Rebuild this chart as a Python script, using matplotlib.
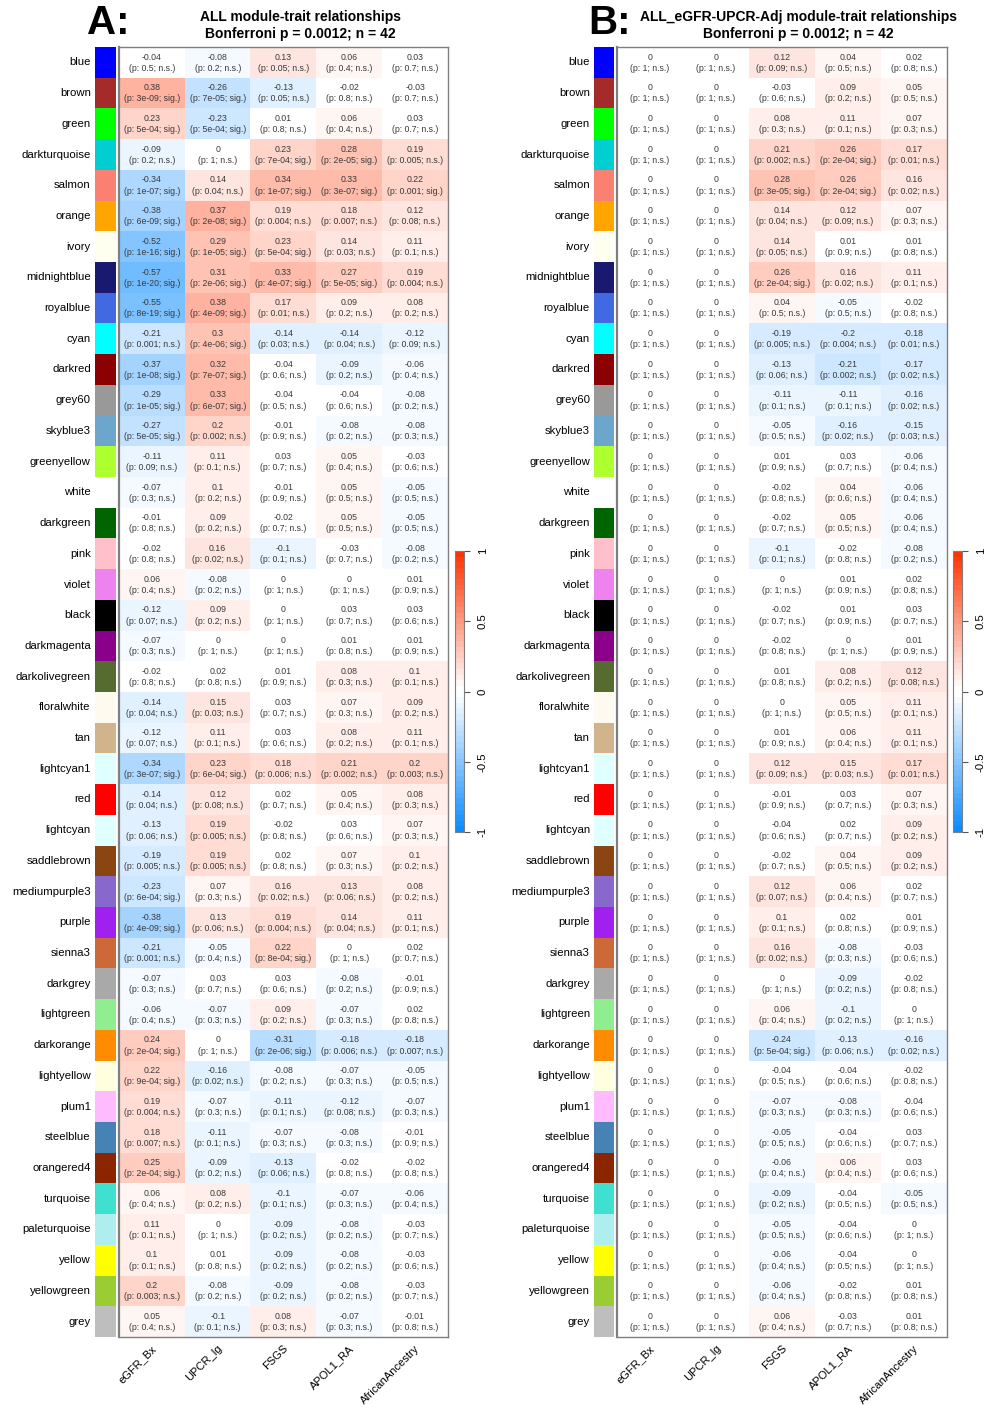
import numpy as np
import matplotlib as mpl
import matplotlib.pyplot as plt
from matplotlib.colors import ListedColormap, Normalize

plt.rcParams['font.family'] = ['Liberation Sans', 'DejaVu Sans']

modules = ['blue', 'brown', 'green', 'darkturquoise', 'salmon', 'orange', 'ivory',
           'midnightblue', 'royalblue', 'cyan', 'darkred', 'grey60', 'skyblue3',
           'greenyellow', 'white', 'darkgreen', 'pink', 'violet', 'black',
           'darkmagenta', 'darkolivegreen', 'floralwhite', 'tan', 'lightcyan1',
           'red', 'lightcyan', 'saddlebrown', 'mediumpurple3', 'purple', 'sienna3',
           'darkgrey', 'lightgreen', 'darkorange', 'lightyellow', 'plum1',
           'steelblue', 'orangered4', 'turquoise', 'paleturquoise', 'yellow',
           'yellowgreen', 'grey']
# R colour values for the module names
module_hex = ['#0000FF', '#A52A2A', '#00FF00', '#00CED1', '#FA8072', '#FFA500', '#FFFFF0',
              '#191970', '#4169E1', '#00FFFF', '#8B0000', '#999999', '#6CA6CD',
              '#ADFF2F', '#FFFFFF', '#006400', '#FFC0CB', '#EE82EE', '#000000',
              '#8B008B', '#556B2F', '#FFFAF0', '#D2B48C', '#E0FFFF',
              '#FF0000', '#E0FFFF', '#8B4513', '#8968CD', '#A020F0', '#CD6839',
              '#A9A9A9', '#90EE90', '#FF8C00', '#FFFFE0', '#FFBBFF',
              '#4682B4', '#8B2500', '#40E0D0', '#AFEEEE', '#FFFF00',
              '#9ACD32', '#BEBEBE']
traits = ['eGFR_Bx', 'UPCR_lg', 'FSGS', 'APOL1_RA', 'AfricanAncestry']

corr_a = [
    [-0.04, -0.08, 0.13, 0.06, 0.03],
    [0.38, -0.26, -0.13, -0.02, -0.03],
    [0.23, -0.23, 0.01, 0.06, 0.03],
    [-0.09, 0, 0.23, 0.28, 0.19],
    [-0.34, 0.14, 0.34, 0.33, 0.22],
    [-0.38, 0.37, 0.19, 0.18, 0.12],
    [-0.52, 0.29, 0.23, 0.14, 0.11],
    [-0.57, 0.31, 0.33, 0.27, 0.19],
    [-0.55, 0.38, 0.17, 0.09, 0.08],
    [-0.21, 0.3, -0.14, -0.14, -0.12],
    [-0.37, 0.32, -0.04, -0.09, -0.06],
    [-0.29, 0.33, -0.04, -0.04, -0.08],
    [-0.27, 0.2, -0.01, -0.08, -0.08],
    [-0.11, 0.11, 0.03, 0.05, -0.03],
    [-0.07, 0.1, -0.01, 0.05, -0.05],
    [-0.01, 0.09, -0.02, 0.05, -0.05],
    [-0.02, 0.16, -0.1, -0.03, -0.08],
    [0.06, -0.08, 0, 0, 0.01],
    [-0.12, 0.09, 0, 0.03, 0.03],
    [-0.07, 0, 0, 0.01, 0.01],
    [-0.02, 0.02, 0.01, 0.08, 0.1],
    [-0.14, 0.15, 0.03, 0.07, 0.09],
    [-0.12, 0.11, 0.03, 0.08, 0.11],
    [-0.34, 0.23, 0.18, 0.21, 0.2],
    [-0.14, 0.12, 0.02, 0.05, 0.08],
    [-0.13, 0.19, -0.02, 0.03, 0.07],
    [-0.19, 0.19, 0.02, 0.07, 0.1],
    [-0.23, 0.07, 0.16, 0.13, 0.08],
    [-0.38, 0.13, 0.19, 0.14, 0.11],
    [-0.21, -0.05, 0.22, 0, 0.02],
    [-0.07, 0.03, 0.03, -0.08, -0.01],
    [-0.06, -0.07, 0.09, -0.07, 0.02],
    [0.24, 0, -0.31, -0.18, -0.18],
    [0.22, -0.16, -0.08, -0.07, -0.05],
    [0.19, -0.07, -0.11, -0.12, -0.07],
    [0.18, -0.11, -0.07, -0.08, -0.01],
    [0.25, -0.09, -0.13, -0.02, -0.02],
    [0.06, 0.08, -0.1, -0.07, -0.06],
    [0.11, 0, -0.09, -0.08, -0.03],
    [0.1, 0.01, -0.09, -0.08, -0.03],
    [0.2, -0.08, -0.09, -0.08, -0.03],
    [0.05, -0.1, 0.08, -0.07, -0.01],
]
pval_a = [
    ['0.5', '0.2', '0.05', '0.4', '0.7'],
    ['3e-09', '7e-05', '0.05', '0.8', '0.7'],
    ['5e-04', '5e-04', '0.8', '0.4', '0.7'],
    ['0.2', '1', '7e-04', '2e-05', '0.005'],
    ['1e-07', '0.04', '1e-07', '3e-07', '0.001'],
    ['6e-09', '2e-08', '0.004', '0.007', '0.08'],
    ['1e-16', '1e-05', '5e-04', '0.03', '0.1'],
    ['1e-20', '2e-06', '4e-07', '5e-05', '0.004'],
    ['8e-19', '4e-09', '0.01', '0.2', '0.2'],
    ['0.001', '4e-06', '0.03', '0.04', '0.09'],
    ['1e-08', '7e-07', '0.6', '0.2', '0.4'],
    ['1e-05', '6e-07', '0.5', '0.6', '0.2'],
    ['5e-05', '0.002', '0.9', '0.2', '0.3'],
    ['0.09', '0.1', '0.7', '0.4', '0.6'],
    ['0.3', '0.2', '0.9', '0.5', '0.5'],
    ['0.8', '0.2', '0.7', '0.5', '0.5'],
    ['0.8', '0.02', '0.1', '0.7', '0.2'],
    ['0.4', '0.2', '1', '1', '0.9'],
    ['0.07', '0.2', '1', '0.7', '0.6'],
    ['0.3', '1', '1', '0.8', '0.9'],
    ['0.8', '0.8', '0.9', '0.3', '0.1'],
    ['0.04', '0.03', '0.7', '0.3', '0.2'],
    ['0.07', '0.1', '0.6', '0.2', '0.1'],
    ['3e-07', '6e-04', '0.006', '0.002', '0.003'],
    ['0.04', '0.08', '0.7', '0.4', '0.3'],
    ['0.06', '0.005', '0.8', '0.6', '0.3'],
    ['0.005', '0.005', '0.8', '0.3', '0.2'],
    ['6e-04', '0.3', '0.02', '0.06', '0.2'],
    ['4e-09', '0.06', '0.004', '0.04', '0.1'],
    ['0.001', '0.4', '8e-04', '1', '0.7'],
    ['0.3', '0.7', '0.6', '0.2', '0.9'],
    ['0.4', '0.3', '0.2', '0.3', '0.8'],
    ['2e-04', '1', '2e-06', '0.006', '0.007'],
    ['9e-04', '0.02', '0.2', '0.3', '0.5'],
    ['0.004', '0.3', '0.1', '0.08', '0.3'],
    ['0.007', '0.1', '0.3', '0.3', '0.9'],
    ['2e-04', '0.2', '0.06', '0.8', '0.8'],
    ['0.4', '0.2', '0.1', '0.3', '0.4'],
    ['0.1', '1', '0.2', '0.2', '0.7'],
    ['0.1', '0.8', '0.2', '0.2', '0.6'],
    ['0.003', '0.2', '0.2', '0.2', '0.7'],
    ['0.4', '0.1', '0.3', '0.3', '0.8'],
]
# cells flagged "sig." although the rounded p reads 0.001
extra_sig_a = [(4, 4)]

corr_b = [
    [0, 0, 0.12, 0.04, 0.02],
    [0, 0, -0.03, 0.09, 0.05],
    [0, 0, 0.08, 0.11, 0.07],
    [0, 0, 0.21, 0.26, 0.17],
    [0, 0, 0.28, 0.26, 0.16],
    [0, 0, 0.14, 0.12, 0.07],
    [0, 0, 0.14, 0.01, 0.01],
    [0, 0, 0.26, 0.16, 0.11],
    [0, 0, 0.04, -0.05, -0.02],
    [0, 0, -0.19, -0.2, -0.18],
    [0, 0, -0.13, -0.21, -0.17],
    [0, 0, -0.11, -0.11, -0.16],
    [0, 0, -0.05, -0.16, -0.15],
    [0, 0, 0.01, 0.03, -0.06],
    [0, 0, -0.02, 0.04, -0.06],
    [0, 0, -0.02, 0.05, -0.06],
    [0, 0, -0.1, -0.02, -0.08],
    [0, 0, 0, 0.01, 0.02],
    [0, 0, -0.02, 0.01, 0.03],
    [0, 0, -0.02, 0, 0.01],
    [0, 0, 0.01, 0.08, 0.12],
    [0, 0, 0, 0.05, 0.11],
    [0, 0, 0.01, 0.06, 0.11],
    [0, 0, 0.12, 0.15, 0.17],
    [0, 0, -0.01, 0.03, 0.07],
    [0, 0, -0.04, 0.02, 0.09],
    [0, 0, -0.02, 0.04, 0.09],
    [0, 0, 0.12, 0.06, 0.02],
    [0, 0, 0.1, 0.02, 0.01],
    [0, 0, 0.16, -0.08, -0.03],
    [0, 0, 0, -0.09, -0.02],
    [0, 0, 0.06, -0.1, 0],
    [0, 0, -0.24, -0.13, -0.16],
    [0, 0, -0.04, -0.04, -0.02],
    [0, 0, -0.07, -0.08, -0.04],
    [0, 0, -0.05, -0.04, 0.03],
    [0, 0, -0.06, 0.06, 0.03],
    [0, 0, -0.09, -0.04, -0.05],
    [0, 0, -0.05, -0.04, 0],
    [0, 0, -0.06, -0.04, 0],
    [0, 0, -0.06, -0.02, 0.01],
    [0, 0, 0.06, -0.03, 0.01],
]
pval_b = [
    ['1', '1', '0.09', '0.5', '0.8'],
    ['1', '1', '0.6', '0.2', '0.5'],
    ['1', '1', '0.3', '0.1', '0.3'],
    ['1', '1', '0.002', '2e-04', '0.01'],
    ['1', '1', '3e-05', '2e-04', '0.02'],
    ['1', '1', '0.04', '0.09', '0.3'],
    ['1', '1', '0.05', '0.9', '0.8'],
    ['1', '1', '2e-04', '0.02', '0.1'],
    ['1', '1', '0.5', '0.5', '0.8'],
    ['1', '1', '0.005', '0.004', '0.01'],
    ['1', '1', '0.06', '0.002', '0.02'],
    ['1', '1', '0.1', '0.1', '0.02'],
    ['1', '1', '0.5', '0.02', '0.03'],
    ['1', '1', '0.9', '0.7', '0.4'],
    ['1', '1', '0.8', '0.6', '0.4'],
    ['1', '1', '0.7', '0.5', '0.4'],
    ['1', '1', '0.1', '0.8', '0.2'],
    ['1', '1', '1', '0.9', '0.8'],
    ['1', '1', '0.7', '0.9', '0.7'],
    ['1', '1', '0.8', '1', '0.9'],
    ['1', '1', '0.8', '0.2', '0.08'],
    ['1', '1', '1', '0.5', '0.1'],
    ['1', '1', '0.9', '0.4', '0.1'],
    ['1', '1', '0.09', '0.03', '0.01'],
    ['1', '1', '0.9', '0.7', '0.3'],
    ['1', '1', '0.6', '0.7', '0.2'],
    ['1', '1', '0.7', '0.5', '0.2'],
    ['1', '1', '0.07', '0.4', '0.7'],
    ['1', '1', '0.1', '0.8', '0.9'],
    ['1', '1', '0.02', '0.3', '0.6'],
    ['1', '1', '1', '0.2', '0.8'],
    ['1', '1', '0.4', '0.2', '1'],
    ['1', '1', '5e-04', '0.06', '0.02'],
    ['1', '1', '0.5', '0.6', '0.8'],
    ['1', '1', '0.3', '0.3', '0.6'],
    ['1', '1', '0.5', '0.6', '0.7'],
    ['1', '1', '0.4', '0.4', '0.6'],
    ['1', '1', '0.2', '0.5', '0.5'],
    ['1', '1', '0.5', '0.6', '1'],
    ['1', '1', '0.4', '0.5', '1'],
    ['1', '1', '0.4', '0.8', '0.8'],
    ['1', '1', '0.4', '0.7', '0.8'],
]
extra_sig_b = []


def blue_white_red(n=50):
    # same ramp as WGCNA::blueWhiteRed
    half = n // 2
    frac = np.arange(half) / (half - 1)
    blue_end = np.array([0.05, 0.55, 1.0])
    red_end = np.array([1.0, 0.2, 0.0])
    lower = blue_end + (1 - blue_end) * frac[:, None]
    upper = red_end + (1 - red_end) * frac[::-1][:, None]
    return ListedColormap(np.vstack([lower, upper]))


cmap = blue_white_red(50)
W, H = 994, 1405
TOP, BOT = 47, 1337
fig = plt.figure(figsize=(W / 100, H / 100), dpi=100)


def px_axes(x0, y0, x1, y1):
    return fig.add_axes([x0 / W, 1 - y1 / H, (x1 - x0) / W, (y1 - y0) / H])


def draw_panel(letter, title, corr, pval, extra_sig, hx0, hx1, sx0, sx1, title_x, letter_x, cb_x0):
    corr = np.array(corr, float)
    nr, nc = corr.shape

    ax = px_axes(hx0, TOP, hx1, BOT)
    ax.imshow(corr, cmap=cmap, vmin=-1, vmax=1, aspect='auto',
              interpolation='nearest', extent=(0, nc, nr, 0))
    for i in range(nr):
        for j in range(nc):
            p = pval[i][j]
            sig = ('e-' in p) or ((i, j) in extra_sig)
            ax.text(j + 0.5, i + 0.33, f"{corr[i, j]:g}", ha='center', va='center',
                    fontsize=6.3, color='#3a3a3a')
            ax.text(j + 0.5, i + 0.69, f"(p: {p}; {'sig.' if sig else 'n.s.'})",
                    ha='center', va='center', fontsize=6.3, color='#3a3a3a')
    ax.set_xlim(0, nc)
    ax.set_ylim(nr, 0)
    ax.set_xticks([])
    ax.set_yticks([])
    for s in ax.spines.values():
        s.set_color('#7f7f7f')
        s.set_linewidth(1.0)
    ax.spines['left'].set_linewidth(1.6)
    for j, t in enumerate(traits):
        ax.annotate(t, xy=(j + 0.5, nr), xycoords='data', xytext=(3, -10),
                    textcoords='offset pixels', rotation=45, rotation_mode='anchor',
                    ha='right', va='center', fontsize=8.0, annotation_clip=False)

    sx = px_axes(sx0, TOP, sx1, BOT)
    rgb = np.array([mpl.colors.to_rgb(c) for c in module_hex])[:, None, :]
    sx.imshow(rgb, aspect='auto', interpolation='nearest', extent=(0, 1, nr, 0))
    sx.set_xlim(0, 1)
    sx.set_ylim(nr, 0)
    sx.axis('off')
    for i, m in enumerate(modules):
        sx.text(-0.2, i + 0.5, m, ha='right', va='center', fontsize=8.2)

    lines = title.split('\n')
    fig.text(title_x / W, 1 - 17 / H, lines[0], ha='center', va='center',
             fontsize=10, fontweight='bold')
    fig.text(title_x / W, 1 - 34 / H, lines[1], ha='center', va='center',
             fontsize=10, fontweight='bold')
    fig.text(letter_x / W, 1 - 23 / H, letter, ha='left', va='center',
             fontsize=29, fontweight='bold')

    cax = px_axes(cb_x0, 551, cb_x0 + 9, 832)
    cb = mpl.colorbar.ColorbarBase(cax, cmap=cmap, norm=Normalize(-1, 1),
                                   ticks=[-1, -0.5, 0, 0.5, 1])
    cb.ax.set_yticklabels(['-1', '-0.5', '0', '0.5', '1'], rotation=90, va='center',
                          fontsize=8.2)
    cb.ax.tick_params(length=4, width=0.8, color='#555555', pad=6)
    cb.outline.set_edgecolor('#7f7f7f')
    cb.outline.set_linewidth(0.8)


draw_panel('A:', 'ALL module-trait relationships\nBonferroni p = 0.0012; n = 42',
           corr_a, pval_a, extra_sig_a, 119, 448, 95, 116, 300, 87, 455)
draw_panel('B:', 'ALL_eGFR-UPCR-Adj module-trait relationships\nBonferroni p = 0.0012; n = 42',
           corr_b, pval_b, extra_sig_b, 617, 947, 594, 614, 798, 588, 953)

fig.savefig('out.png', dpi=100, facecolor='white')
